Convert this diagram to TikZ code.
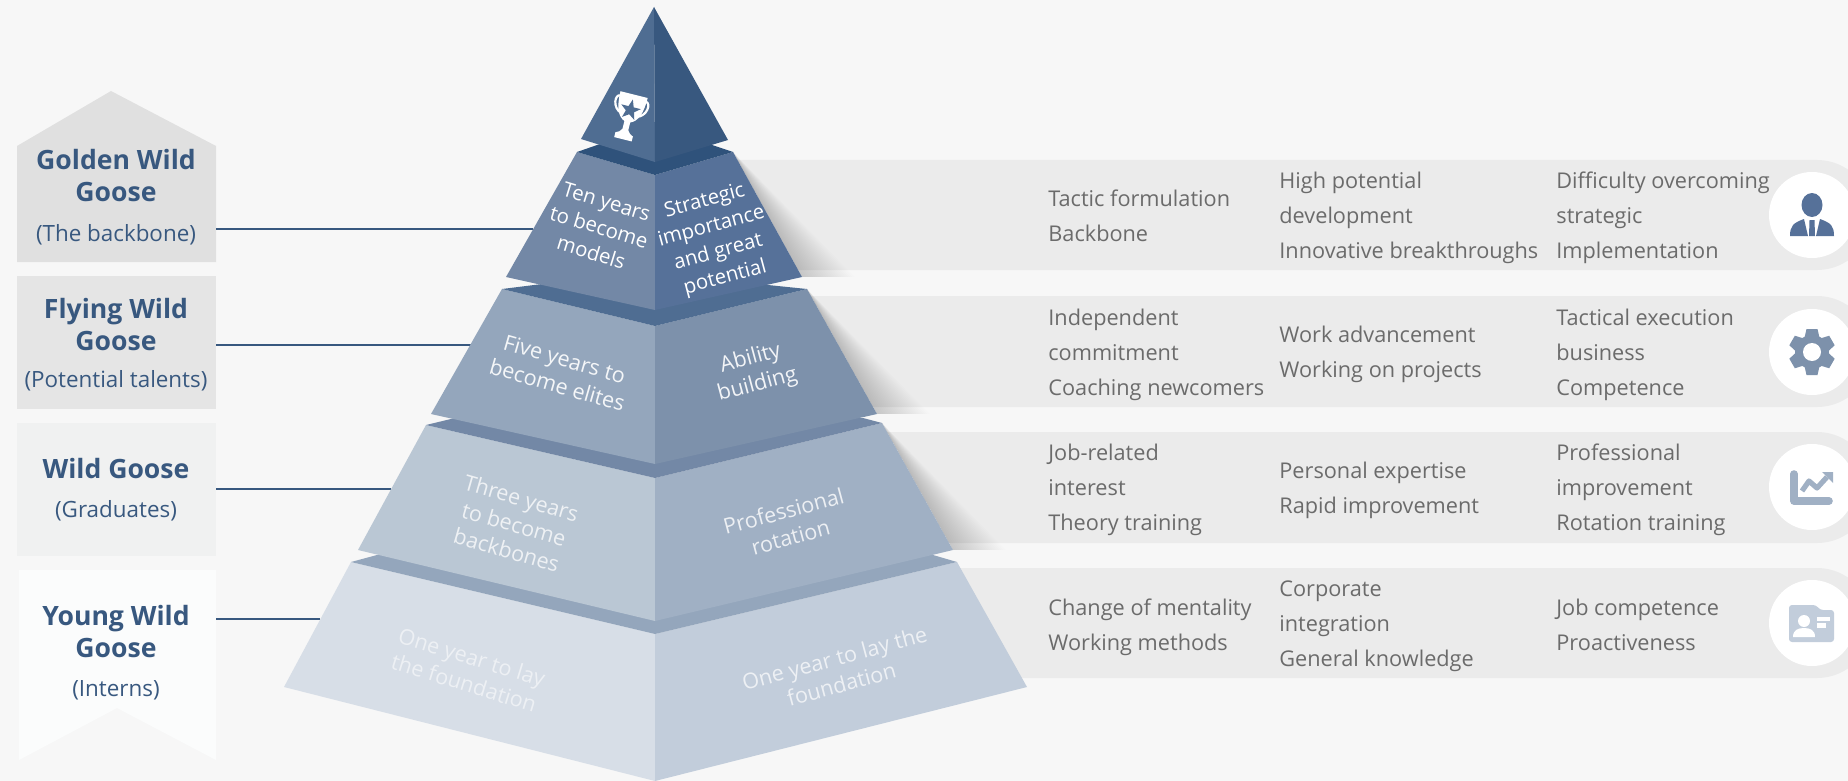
\documentclass[tikz,border=0pt]{standalone}
\usepackage{fontspec}
\setmainfont{Open Sans}
\definecolor{bg}{HTML}{F7F7F7}
\definecolor{bandc}{HTML}{EBEBEB}
\definecolor{navy}{HTML}{38587F}
\definecolor{ta}{HTML}{4F6D92}
\definecolor{tb}{HTML}{38587F}
\definecolor{ba}{HTML}{2F527B}
\definecolor{ub}{HTML}{7388A6}
\definecolor{uc}{HTML}{567199}
\definecolor{bb}{HTML}{4F6D92}
\definecolor{vb}{HTML}{94A6BC}
\definecolor{vc}{HTML}{7D91AB}
\definecolor{bd}{HTML}{7388A6}
\definecolor{wb}{HTML}{BAC7D4}
\definecolor{wc}{HTML}{A0B0C4}
\definecolor{be}{HTML}{94A6BC}
\definecolor{xb}{HTML}{D7DEE7}
\definecolor{xc}{HTML}{C2CDDB}
\definecolor{bodyc}{HTML}{6B6B6B}
\definecolor{boxa}{HTML}{E0E0E0}
\definecolor{boxb}{HTML}{E5E5E5}
\definecolor{boxc}{HTML}{F0F1F1}
\definecolor{boxd}{HTML}{FBFCFC}
\tikzset{
  ptext/.style={align=center,inner sep=0pt,font=\fontsize{10.2}{13.2}\selectfont},
  qtext/.style={align=center,inner sep=0pt,font=\fontsize{10.8}{13.5}\selectfont},
  rowtext/.style={anchor=west,align=left,inner sep=0pt,text=bodyc,font=\fontsize{10.85}{17.4}\selectfont},
  headtext/.style={align=center,inner sep=0pt,text=navy,font=\fontsize{13.3}{16}\selectfont\bfseries},
  subtext/.style={inner sep=0pt,text=navy,font=\fontsize{11.2}{14}\selectfont},
  link/.style={draw=navy,line width=1pt},
  disc/.style={circle,fill=white,minimum size=43pt,inner sep=0pt},
  shadowfan/.style={fill=black,fill opacity=.008},
}
\begin{document}
\begin{tikzpicture}[x=0.5pt,y=-0.5pt]
\useasboundingbox (0,0) rectangle (1848,781);
\clip (0,0) rectangle (1848,781);
\fill[bg] (0,0) rectangle (1848,781);

% right-hand bands
\fill[bandc,rounded corners=27.5pt] (660,160) rectangle (1872,270);
\fill[bandc,rounded corners=27.5pt] (660,296) rectangle (1872,407);
\fill[bandc,rounded corners=27.5pt] (660,432) rectangle (1872,543);
\fill[bandc,rounded corners=27.5pt] (660,568) rectangle (1872,678);

% shadows beside the pyramid
\foreach \k in {1,...,24}{
  \fill[shadowfan] (733,152) -- (802,277) -- ({802+2.2*\k},277) -- cycle;
  \fill[shadowfan] (807,289) -- (877,414) -- ({877+2.2*\k},414) -- cycle;
  \fill[shadowfan] (882,423) -- (953,550) -- ({953+2.2*\k},550) -- cycle;
}

% left boxes
\fill[boxa] (17,146) -- (111,91) -- (216,146) -- (216,262) -- (17,262) -- cycle;
\fill[boxb] (17,276) rectangle (216,409);
\fill[boxc] (17,423) rectangle (216,556);
\fill[boxd] (19,570) -- (216,570) -- (216,760) -- (117,708) -- (19,760) -- cycle;

% connectors
\coordinate (la) at (216,229); \coordinate (ra) at (533,229);
\coordinate (lb) at (216,345); \coordinate (rb) at (471,345);
\coordinate (lc) at (216,489); \coordinate (rc) at (391,489);
\coordinate (ld) at (216,619); \coordinate (rd) at (320,619);
\draw[link] (la) -- (ra);
\draw[link] (lb) -- (rb);
\draw[link] (lc) -- (rc);
\draw[link] (ld) -- (rd);

% pyramid: base to top
\fill[xb] (351,562) -- (655,634) -- (655,781) -- (284,687) -- cycle;
\fill[xc] (957,562) -- (655,634) -- (655,781) -- (1027,687) -- cycle;
\fill[be] (351,562) -- (377,555) -- (933,555) -- (957,562) -- (655,634) -- cycle;
\fill[wb] (426,425) -- (655,478) -- (655,621) -- (358,550) -- cycle;
\fill[wc] (882,423) -- (655,478) -- (655,621) -- (953,550) -- cycle;
\fill[bd] (426,425) -- (455,418) -- (863,418) -- (882,423) -- (655,478) -- cycle;
\fill[vb] (502,289) -- (655,326) -- (655,464) -- (431,414) -- cycle;
\fill[vc] (807,289) -- (655,326) -- (655,464) -- (877,414) -- cycle;
\fill[bb] (502,289) -- (542,284) -- (768,285) -- (807,289) -- (655,326) -- cycle;
\fill[ub] (577,152) -- (655,175) -- (655,310) -- (506,277) -- cycle;
\fill[uc] (733,152) -- (655,175) -- (655,310) -- (802,277) -- cycle;
\fill[ba] (577,152) -- (600,144) -- (712,145) -- (733,152) -- (655,175) -- cycle;
\fill[ta] (654,7) -- (655,162) -- (581,139) -- cycle;
\fill[tb] (654,7) -- (655,162) -- (728,140) -- cycle;

% trophy
\begin{scope}[shift={(629,115)},rotate=-14]
  \draw[white,line width=1.1pt] (-13,-17) .. controls (-19,-17) and (-18,-3) .. (-8,0);
  \draw[white,line width=1.1pt] (13,-17) .. controls (19,-17) and (18,-3) .. (8,0);
  \fill[white] (-14,-21) -- (14,-21) .. controls (14,-4) and (10,4) .. (3,7) -- (3,15) .. controls (4,18) and (7,19) .. (9,20) -- (9,25) -- (-9,25) -- (-9,20) .. controls (-7,19) and (-4,18) .. (-3,15) -- (-3,7) .. controls (-10,4) and (-14,-4) .. (-14,-21) -- cycle;
  \fill[ta] (0,-16) -- (2.7,-8.5) -- (10,-8.5) -- (4.2,-3.8) -- (6.3,3.5) -- (0,-0.8) -- (-6.3,3.5) -- (-4.2,-3.8) -- (-10,-8.5) -- (-2.7,-8.5) -- cycle;
\end{scope}

% pyramid texts
\node[ptext,text=white,rotate=-17] (t1) at (599,227) {Ten years\\to become\\models};
\node[ptext,text=white,rotate=15] (t2) at (715,240) {Strategic\\importance\\and great\\potential};
\node[qtext,text=white!90!vb,rotate=-16] (t3) at (561,372) {Five years to\\become elites};
\node[qtext,text=white!90!vc,rotate=15] (t4) at (754,372) {Ability\\building};
\node[qtext,text=white!75!wb,rotate=-16] (t5) at (514,524) {Three years\\to become\\backbones};
\node[qtext,text=white!80!wc,rotate=15] (t6) at (787,524) {Professional\\rotation};
\node[qtext,text=white!55!xb,rotate=-17] (t7) at (468,670) {One year to lay\\the foundation};
\node[qtext,text=white!70!xc,rotate=15] (t8) at (838,671) {One year to lay the\\foundation};

% left labels
\node[headtext] (g1) at (116,176) {Golden Wild\\Goose};
\node[subtext] (g2) at (116,235) {(The backbone)};
\node[headtext] (f1) at (116,325) {Flying Wild\\Goose};
\node[subtext] (f2) at (116,381) {(Potential talents)};
\node[headtext] (w1) at (116,469) {Wild Goose};
\node[subtext] (w2) at (116,511) {(Graduates)};
\node[headtext] (y1) at (116,632) {Young Wild\\Goose};
\node[subtext] (y2) at (116,690) {(Interns)};

% row texts
\node[rowtext] (r11) at (1048,216) {Tactic formulation\\Backbone};
\node[rowtext] (r12) at (1279,218) {High potential\\development\\Innovative breakthroughs};
\node[rowtext] (r13) at (1556,218) {Difficulty overcoming\\strategic\\Implementation};
\node[rowtext] (r21) at (1048,355) {Independent\\commitment\\Coaching newcomers};
\node[rowtext] (r22) at (1279,354) {Work advancement\\Working on projects};
\node[rowtext] (r23) at (1556,355) {Tactical execution\\business\\Competence};
\node[rowtext] (r31) at (1048,490) {Job-related\\interest\\Theory training};
\node[rowtext] (r32) at (1279,490) {Personal expertise\\Rapid improvement};
\node[rowtext] (r33) at (1556,490) {Professional\\improvement\\Rotation training};
\node[rowtext] (r41) at (1048,627) {Change of mentality\\Working methods};
\node[rowtext] (r42) at (1279,626) {Corporate\\integration\\General knowledge};
\node[rowtext] (r43) at (1556,625) {Job competence\\Proactiveness};

% icon discs
\node[disc] (d1) at (1812,215) {};
\node[disc] (d2) at (1812,352) {};
\node[disc] (d3) at (1812,487) {};
\node[disc] (d4) at (1812,623) {};

% person
\fill[uc] (1812,205) ellipse [x radius=10.5,y radius=12];
\fill[uc] (1790,236) .. controls (1790,226) and (1793,223) .. (1804,219) -- (1808,236) -- cycle;
\fill[uc] (1834,236) .. controls (1834,226) and (1831,223) .. (1820,219) -- (1816,236) -- cycle;
\fill[uc] (1809.5,220) -- (1814.5,220) -- (1815,236) -- (1809,236) -- cycle;

% gear
\begin{scope}[shift={(1812,352)}]
  \fill[vc] (0,0) circle [radius=17];
  \foreach \a in {30,90,150,210,270,330}{
    \begin{scope}[rotate=\a]
      \fill[vc] (12,-8) -- (23,-5.5) -- (23,5.5) -- (12,8) -- cycle;
    \end{scope}
  }
  \fill[white] (0,0) circle [radius=9];
\end{scope}

% chart
\draw[wc,line width=3.8pt,line cap=round,line join=round] (1794,474) -- (1794,501) -- (1829,501);
\draw[wc,line width=2.6pt,line join=round] (1802,491) -- (1809,481) -- (1817,488) -- (1827,477);
\fill[wc] (1822,472) -- (1833,472) -- (1833,483) -- cycle;

% card
\fill[xc,rounded corners=1.5pt] (1789,605) -- (1816,605) -- (1820,610) -- (1834,610) -- (1834,642) -- (1789,642) -- cycle;
\fill[white] (1804,621) circle [radius=6];
\fill[white] (1793,637) .. controls (1793,630) and (1798,628) .. (1804,628) .. controls (1810,628) and (1815,630) .. (1815,637) -- cycle;
\fill[white] (1817,617) rectangle (1830,621);
\fill[white] (1817,623) rectangle (1826,628);
\end{tikzpicture}
\end{document}
